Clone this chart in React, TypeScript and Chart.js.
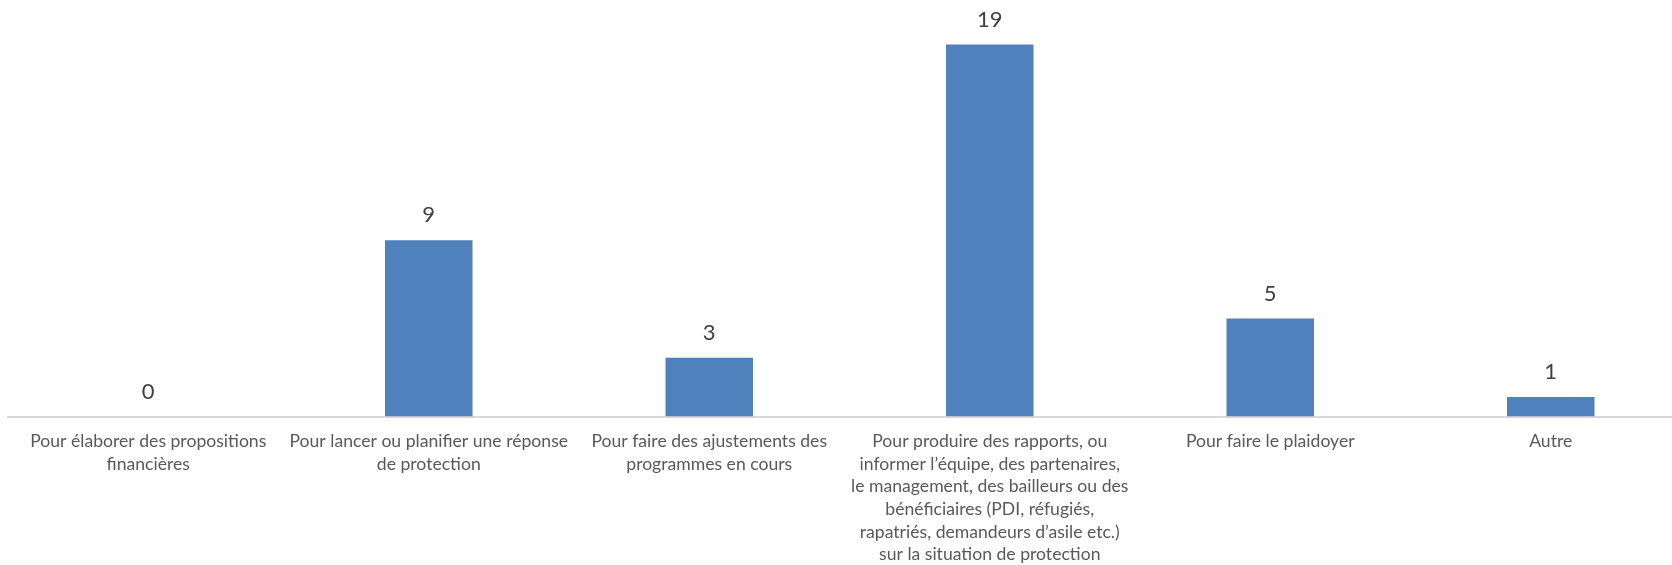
import React, { useEffect, useRef } from "react";
import { Chart, registerables } from "chart.js";

Chart.register(...registerables);

const categories: string[][] = [
  ["Pour élaborer des propositions", "financières"],
  ["Pour lancer ou planifier une réponse", "de protection"],
  ["Pour faire des ajustements des", "programmes en cours"],
  [
    "Pour produire des rapports, ou",
    "informer l’équipe, des partenaires,",
    "le management, des bailleurs ou des",
    "bénéficiaires (PDI, réfugiés,",
    "rapatriés, demandeurs d’asile etc.)",
    "sur la situation de protection",
  ],
  ["Pour faire le plaidoyer"],
  ["Autre"],
];

const values: number[] = [0, 9, 3, 19, 5, 1];

const FONT = "Lato, 'Open Sans', sans-serif";

const dataLabelPlugin = {
  id: "dataLabels",
  afterDatasetsDraw(chart: any) {
    const ctx = chart.ctx;
    const meta = chart.getDatasetMeta(0);
    ctx.save();
    ctx.font = `22px ${FONT}`;
    ctx.fillStyle = "#404040";
    ctx.textAlign = "center";
    ctx.textBaseline = "middle";
    meta.data.forEach((bar: any, i: number) => {
      ctx.fillText(String(values[i]), bar.x, bar.y - 25);
    });
    ctx.restore();
  },
};

export default function App() {
  const canvasRef = useRef<HTMLCanvasElement | null>(null);

  useEffect(() => {
    if (!canvasRef.current) return;
    const chart = new Chart(canvasRef.current, {
      type: "bar",
      data: {
        labels: categories,
        datasets: [
          {
            data: values,
            backgroundColor: "#4F81BD",
            borderWidth: 0,
            barPercentage: 0.312,
            categoryPercentage: 1,
          },
        ],
      },
      options: {
        responsive: false,
        animation: false,
        devicePixelRatio: 1,
        layout: { padding: { left: 8, right: 9, top: 24.9, bottom: 0 } },
        plugins: {
          legend: { display: false },
          tooltip: { enabled: false },
          title: { display: false },
        },
        scales: {
          x: {
            offset: true,
            grid: { display: false, drawTicks: false },
            border: { display: true, color: "#D9D9D9", width: 2 },
            ticks: {
              color: "#595959",
              font: { family: FONT, size: 17.6, lineHeight: 1.28 },
              padding: 14,
              maxRotation: 0,
              minRotation: 0,
              autoSkip: false,
            },
            afterFit: (scale: any) => {
              scale.height = 148.5;
            },
          },
          y: {
            display: false,
            min: 0,
            max: 20,
          },
        },
      },
      plugins: [dataLabelPlugin],
    });
    return () => chart.destroy();
  }, []);

  return (
    <div
      style={{
        position: "fixed",
        left: 0,
        top: 0,
        width: 1672,
        height: 565,
        overflow: "hidden",
        background: "#ffffff",
      }}
    >
      <canvas ref={canvasRef} width={1700} height={565} style={{ display: "block" }} />
    </div>
  );
}
